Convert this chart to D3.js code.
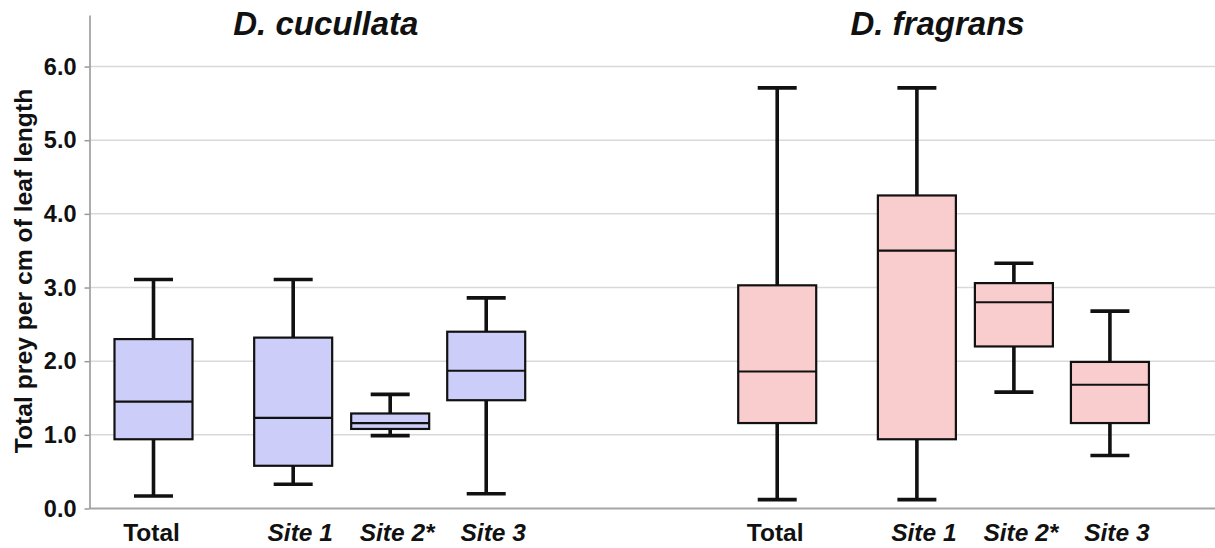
<!DOCTYPE html>
<html>
<head>
<meta charset="utf-8">
<script src="https://cdn.jsdelivr.net/npm/d3@7"></script>
<style>
  html, body { margin: 0; padding: 0; background: #fff; }
  svg { display: block; font-family: "Liberation Sans", Arial, Helvetica, sans-serif; }
</style>
</head>
<body>
<svg id="chart" width="1215" height="548"></svg>
<script>
// Species panels and the sampling categories within each
const species = ["D. cucullata", "D. fragrans"];
const categories = ["Total", "Site 1", "Site 2*", "Site 3"];

// Box-plot statistics (total prey per cm of leaf length), one entry per category
const cucullataLow    = [0.17, 0.33, 0.99, 0.20];
const cucullataQ1     = [0.94, 0.58, 1.08, 1.47];
const cucullataMedian = [1.45, 1.23, 1.16, 1.87];
const cucullataQ3     = [2.30, 2.32, 1.29, 2.40];
const cucullataHigh   = [3.11, 3.11, 1.55, 2.86];

const fragransLow    = [0.12, 0.12, 1.58, 0.72];
const fragransQ1     = [1.16, 0.94, 2.20, 1.16];
const fragransMedian = [1.86, 3.50, 2.80, 1.68];
const fragransQ3     = [3.03, 4.25, 3.06, 1.99];
const fragransHigh   = [5.71, 5.71, 3.33, 2.68];

const yTicks = [0, 1, 2, 3, 4, 5, 6];
const yLabel = "Total prey per cm of leaf length";

// ---- layout ----
const W = 1215, H = 548;
const axisX = 89.5;
const yMax = 6.7;
const slotOf = [0, 1.44, 2.44, 3.43];   // horizontal slot of each category inside a panel
const panelOffset = [0, 6.43];          // slot offset of each species panel
const boxW = 78, capW = 39;
const fills = ["#cdcdf9", "#f9cdcd"];

const stats = [
  { low: cucullataLow, q1: cucullataQ1, med: cucullataMedian, q3: cucullataQ3, high: cucullataHigh },
  { low: fragransLow,  q1: fragransQ1,  med: fragransMedian,  q3: fragransQ3,  high: fragransHigh }
];

const boxes = [];
species.forEach((sp, g) => {
  categories.forEach((cat, i) => {
    boxes.push({
      g, cat, slot: panelOffset[g] + slotOf[i],
      low: stats[g].low[i], q1: stats[g].q1[i], med: stats[g].med[i],
      q3: stats[g].q3[i], high: stats[g].high[i]
    });
  });
});

const svg = d3.select("#chart");
svg.append("rect").attr("width", W).attr("height", H).attr("fill", "#fff");

const y = d3.scaleLinear().domain([0, yMax]).range([508.5, 15]);
const x = d3.scaleLinear().domain([0, 1]).range([153.5, 250.5]);

// horizontal gridlines
svg.append("g")
  .selectAll("line")
  .data(yTicks.filter(d => d > 0))
  .join("line")
  .attr("x1", axisX).attr("x2", W)
  .attr("y1", d => y(d)).attr("y2", d => y(d))
  .attr("stroke", "#d9d9d9").attr("stroke-width", 1.5);

// baseline
svg.append("line")
  .attr("x1", axisX).attr("x2", W)
  .attr("y1", y(0)).attr("y2", y(0))
  .attr("stroke", "#a6a6a6").attr("stroke-width", 2);

// y axis
const yAxis = svg.append("g")
  .attr("transform", `translate(${axisX},0)`)
  .call(d3.axisLeft(y).tickValues(yTicks).tickFormat(d3.format(".1f"))
    .tickSize(5).tickSizeOuter(0).tickPadding(8));
yAxis.select(".domain").attr("stroke", "#999").attr("stroke-width", 1.6);
yAxis.selectAll(".tick line").attr("stroke", "#999").attr("stroke-width", 1.5);
yAxis.selectAll(".tick text")
  .attr("fill", "#111")
  .style("font-size", "23.5px").style("font-weight", "bold")
  .style("font-family", "'Liberation Sans', Arial, sans-serif");

// y axis title
svg.append("text")
  .attr("transform", `translate(32,271) rotate(-90)`)
  .attr("text-anchor", "middle")
  .attr("fill", "#111")
  .style("font-size", "24.7px").style("font-weight", "bold")
  .text(yLabel);

// boxes
const bx = svg.append("g").selectAll("g").data(boxes).join("g");

// whiskers
bx.append("line")
  .attr("x1", d => x(d.slot)).attr("x2", d => x(d.slot))
  .attr("y1", d => y(d.high)).attr("y2", d => y(d.q3))
  .attr("stroke", "#111").attr("stroke-width", 3.6);
bx.append("line")
  .attr("x1", d => x(d.slot)).attr("x2", d => x(d.slot))
  .attr("y1", d => y(d.q1)).attr("y2", d => y(d.low))
  .attr("stroke", "#111").attr("stroke-width", 3.6);
// caps
["high", "low"].forEach(k => {
  bx.append("line")
    .attr("x1", d => x(d.slot) - capW / 2).attr("x2", d => x(d.slot) + capW / 2)
    .attr("y1", d => y(d[k])).attr("y2", d => y(d[k]))
    .attr("stroke", "#111").attr("stroke-width", 3.6);
});
// interquartile box
bx.append("rect")
  .attr("x", d => x(d.slot) - boxW / 2)
  .attr("width", boxW)
  .attr("y", d => y(d.q3))
  .attr("height", d => y(d.q1) - y(d.q3))
  .attr("fill", d => fills[d.g])
  .attr("stroke", "#111").attr("stroke-width", 2.2);
// median
bx.append("line")
  .attr("x1", d => x(d.slot) - boxW / 2).attr("x2", d => x(d.slot) + boxW / 2)
  .attr("y1", d => y(d.med)).attr("y2", d => y(d.med))
  .attr("stroke", "#111").attr("stroke-width", 2.2);

// category labels
svg.append("g").selectAll("text").data(boxes).join("text")
  .attr("x", d => x(d.slot) + (d.cat === "Total" ? -2 : 7))
  .attr("y", 541)
  .attr("text-anchor", "middle")
  .attr("fill", "#111")
  .style("font-size", "24.5px").style("font-weight", "bold")
  .style("font-style", d => d.cat === "Total" ? "normal" : "italic")
  .text(d => d.cat);

// species titles
svg.append("g").selectAll("text").data(species).join("text")
  .attr("x", (d, g) => (x(panelOffset[g] + slotOf[0]) + x(panelOffset[g] + slotOf[3])) / 2 + (g === 0 ? 6 : -6))
  .attr("y", 35)
  .attr("text-anchor", "middle")
  .attr("fill", "#111")
  .style("font-size", "33px").style("font-weight", "bold").style("font-style", "italic")
  .text(d => d);
</script>
</body>
</html>
